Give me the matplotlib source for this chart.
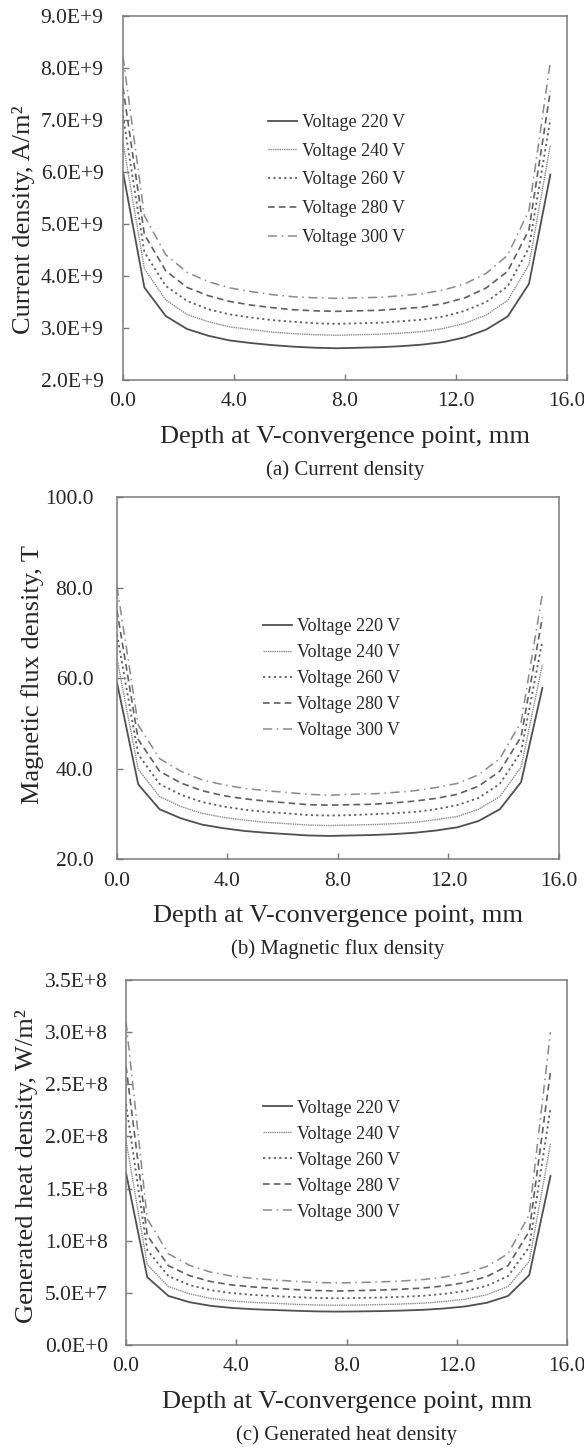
import matplotlib
matplotlib.use("Agg")
import matplotlib.pyplot as plt
from matplotlib.ticker import FuncFormatter, MultipleLocator
import math

plt.rcParams['font.family'] = ['Liberation Serif', 'DejaVu Serif']

# depth positions along the V-convergence line, mm
depth = [0.0, 0.77, 1.54, 2.31, 3.08, 3.85, 4.62, 5.39, 6.16, 6.93, 7.70,
         8.47, 9.24, 10.01, 10.78, 11.55, 12.32, 13.09, 13.86, 14.63, 15.40]

voltages = ["Voltage 220 V", "Voltage 240 V", "Voltage 260 V", "Voltage 280 V", "Voltage 300 V"]

# (a) current density, 1e9 A/m2
cur_220 = [6.00, 3.78, 3.23, 2.98, 2.85, 2.76, 2.71, 2.67, 2.64, 2.62, 2.61, 2.62, 2.63, 2.65, 2.68, 2.73, 2.82, 2.97, 3.22, 3.85, 5.95]
cur_240 = [6.57, 4.14, 3.54, 3.26, 3.12, 3.02, 2.97, 2.92, 2.89, 2.87, 2.86, 2.87, 2.88, 2.90, 2.93, 2.99, 3.09, 3.25, 3.53, 4.22, 6.52]
cur_260 = [7.08, 4.46, 3.81, 3.52, 3.36, 3.26, 3.20, 3.15, 3.12, 3.09, 3.08, 3.09, 3.10, 3.13, 3.16, 3.22, 3.33, 3.50, 3.80, 4.54, 7.02]
cur_280 = [7.62, 4.80, 4.10, 3.78, 3.62, 3.51, 3.44, 3.39, 3.35, 3.33, 3.32, 3.33, 3.34, 3.37, 3.40, 3.47, 3.58, 3.77, 4.09, 4.89, 7.56]
cur_300 = [8.22, 5.16, 4.41, 4.07, 3.89, 3.77, 3.70, 3.64, 3.60, 3.58, 3.57, 3.58, 3.59, 3.62, 3.66, 3.73, 3.85, 4.05, 4.40, 5.26, 8.12]

# (b) magnetic flux density, T
mag_220 = [59.0, 36.5, 31.0, 29.0, 27.6, 26.8, 26.2, 25.8, 25.5, 25.2, 25.1, 25.2, 25.3, 25.5, 25.8, 26.3, 27.0, 28.4, 31.0, 37.0, 57.8]
mag_240 = [64.3, 39.8, 33.8, 31.6, 30.1, 29.2, 28.6, 28.1, 27.8, 27.5, 27.4, 27.5, 27.6, 27.8, 28.1, 28.7, 29.4, 31.0, 33.8, 40.3, 63.0]
mag_260 = [69.6, 43.1, 36.6, 34.2, 32.6, 31.6, 30.9, 30.4, 30.1, 29.7, 29.6, 29.7, 29.9, 30.1, 30.4, 31.0, 31.9, 33.5, 36.6, 43.7, 68.2]
mag_280 = [74.9, 46.4, 39.4, 36.8, 35.1, 34.0, 33.3, 32.8, 32.4, 32.0, 31.9, 32.0, 32.1, 32.4, 32.8, 33.4, 34.3, 36.1, 39.4, 47.0, 73.4]
mag_300 = [80.2, 49.6, 42.2, 39.4, 37.5, 36.4, 35.6, 35.1, 34.7, 34.3, 34.1, 34.3, 34.4, 34.7, 35.1, 35.8, 36.7, 38.6, 42.2, 50.3, 78.6]

# (c) generated heat density, 1e8 W/m2
heat_220 = [1.65, 0.65, 0.47, 0.41, 0.375, 0.355, 0.343, 0.335, 0.328, 0.322, 0.320, 0.322, 0.325, 0.330, 0.337, 0.350, 0.370, 0.405, 0.47, 0.67, 1.62]
heat_240 = [1.96, 0.77, 0.56, 0.49, 0.446, 0.422, 0.408, 0.399, 0.390, 0.383, 0.381, 0.383, 0.387, 0.393, 0.401, 0.417, 0.440, 0.482, 0.56, 0.80, 1.93]
heat_260 = [2.31, 0.91, 0.66, 0.574, 0.525, 0.497, 0.480, 0.469, 0.459, 0.451, 0.448, 0.451, 0.455, 0.462, 0.472, 0.490, 0.518, 0.567, 0.66, 0.94, 2.27]
heat_280 = [2.67, 1.05, 0.76, 0.664, 0.608, 0.575, 0.556, 0.543, 0.531, 0.522, 0.518, 0.522, 0.527, 0.535, 0.546, 0.567, 0.599, 0.656, 0.76, 1.09, 2.62]
heat_300 = [3.10, 1.21, 0.874, 0.763, 0.698, 0.660, 0.638, 0.623, 0.610, 0.599, 0.595, 0.599, 0.605, 0.614, 0.627, 0.651, 0.688, 0.753, 0.874, 1.25, 3.00]

styles = [dict(ls='-', color='#505050', lw=1.3),
          dict(ls=(0, (1, 0.6)), color='#8a8a8a', lw=1.0),
          dict(ls=(0, (1.2, 1.8)), color='#606060', lw=1.3),
          dict(ls=(0, (4, 2.5)), color='#606060', lw=1.2),
          dict(ls=(0, (6, 3, 1, 3)), color='#8a8a8a', lw=1.1)]

TXT = '#262626'
EDGE = '#7a7a7a'


def sci_fmt(v, pos):
    if abs(v) < 1e-12:
        return "0.0E+0"
    e = int(math.floor(math.log10(abs(v)) + 1e-9))
    return "%.1fE+%d" % (v / 10 ** e, e)


def plain_fmt(v, pos):
    return "%.1f" % v


panels = [
    dict(rect=[0.2106, 0.7383, 0.7603, 0.2507], series=[cur_220, cur_240, cur_260, cur_280, cur_300],
         scale=1e9, ylim=(2e9, 9e9), ystep=1e9, fmt=sci_fmt, ylabel="Current density, A/m²",
         ylab_xy=(-0.198, 0.44), leg=(0.327, 0.731), lsp=0.65, ypad=14, caption="(a) Current density"),
    dict(rect=[0.2003, 0.4084, 0.7568, 0.2493], series=[mag_220, mag_240, mag_260, mag_280, mag_300],
         scale=1.0, ylim=(20, 100), ystep=20, fmt=plain_fmt, ylabel="Magnetic flux density, T",
         ylab_xy=(-0.165, 0.51), leg=(0.33, 0.665), lsp=0.5, ypad=17, caption="(b) Magnetic flux density"),
    dict(rect=[0.2158, 0.0737, 0.7551, 0.2514], series=[heat_220, heat_240, heat_260, heat_280, heat_300],
         scale=1e8, ylim=(0, 3.5e8), ystep=0.5e8, fmt=sci_fmt, ylabel="Generated heat density, W/m²",
         ylab_xy=(-0.20, 0.49), leg=(0.31, 0.672), lsp=0.5, ypad=13, caption="(c) Generated heat density"),
]

fig = plt.figure(figsize=(5.84, 14.52), dpi=100)

for p in panels:
    ax = fig.add_axes(p['rect'])
    for vals, lab, st in zip(p['series'], voltages, styles):
        ax.plot(depth, [v * p['scale'] for v in vals], label=lab, **st)
    ax.set_xlim(0, 16)
    ax.set_ylim(*p['ylim'])
    ax.xaxis.set_major_locator(MultipleLocator(4))
    ax.yaxis.set_major_locator(MultipleLocator(p['ystep']))
    ax.xaxis.set_major_formatter(FuncFormatter(plain_fmt))
    ax.yaxis.set_major_formatter(FuncFormatter(p['fmt']))
    ax.tick_params(axis='both', direction='in', length=4, width=1, color=EDGE,
                   labelsize=15.5, labelcolor=TXT)
    ax.tick_params(axis='y', pad=p['ypad'])
    ax.tick_params(axis='x', pad=9)
    for s in ax.spines.values():
        s.set_color(EDGE)
        s.set_linewidth(1.1)
    ax.set_ylabel(p['ylabel'], fontsize=19, color=TXT)
    ax.yaxis.set_label_coords(*p['ylab_xy'])
    h = p['rect'][3] * 1452
    ax.text(0.5, -57 / h, "Depth at V-convergence point, mm", transform=ax.transAxes,
            ha='center', va='center', fontsize=19, color=TXT)
    ax.text(0.5, -90 / h, p['caption'], transform=ax.transAxes,
            ha='center', va='center', fontsize=15, color=TXT)
    ax.legend(loc='upper left', bbox_to_anchor=p['leg'], frameon=False, fontsize=13,
              borderpad=0, borderaxespad=0, handlelength=1.6, handletextpad=0.3,
              labelspacing=p['lsp'], labelcolor=TXT)

fig.savefig("out.png", dpi=100)
